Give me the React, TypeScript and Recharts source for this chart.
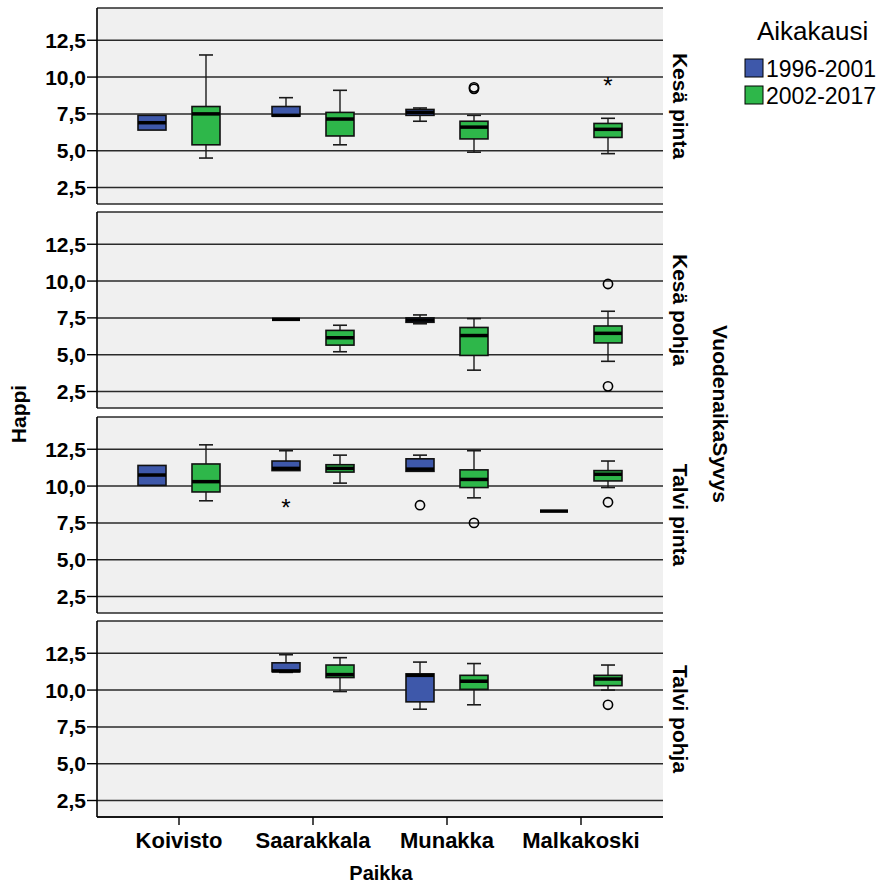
import React from 'react';
import { ComposedChart, Bar, XAxis, YAxis, CartesianGrid } from 'recharts';

const categories = ['Koivisto', 'Saarakkala', 'Munakka', 'Malkakoski'];
const panelLabels = ['Kesä pinta', 'Kesä pohja', 'Talvi pinta', 'Talvi pohja'];
const seriesNames = ['1996-2001', '2002-2017'];
const yTicks = [2.5, 5, 7.5, 10, 12.5];

type Box = number[] | null; // [min, q1, median, q3, max]
type Out = [number, string][]; // [value, marker] marker 'o' circle, '*' extreme

// Kesä pinta
const kesaPinta1996: Box[] = [[6.4, 6.4, 6.9, 7.4, 7.4], [7.35, 7.35, 7.4, 8.0, 8.6], [7.0, 7.4, 7.6, 7.8, 7.9], null];
const kesaPinta2002: Box[] = [[4.5, 5.4, 7.5, 8.0, 11.5], [5.4, 6.0, 7.15, 7.6, 9.1], [4.9, 5.8, 6.6, 7.0, 7.4], [4.8, 5.9, 6.45, 6.85, 7.2]];
const kesaPinta1996Out: Out[] = [[], [], [], []];
const kesaPinta2002Out: Out[] = [[], [], [[9.2, 'o'], [9.3, 'o']], [[9.8, '*']]];

// Kesä pohja
const kesaPohja1996: Box[] = [null, [7.4, 7.4, 7.4, 7.4, 7.4], [7.1, 7.2, 7.35, 7.5, 7.7], null];
const kesaPohja2002: Box[] = [null, [5.2, 5.65, 6.15, 6.65, 7.0], [3.95, 4.95, 6.3, 6.85, 7.45], [4.55, 5.8, 6.45, 6.95, 7.95]];
const kesaPohja1996Out: Out[] = [[], [], [], []];
const kesaPohja2002Out: Out[] = [[], [], [], [[9.8, 'o'], [2.85, 'o']]];

// Talvi pinta
const talviPinta1996: Box[] = [[10.05, 10.05, 10.75, 11.4, 11.4], [11.05, 11.05, 11.2, 11.7, 12.4], [11.0, 11.0, 11.15, 11.85, 12.1], [8.3, 8.3, 8.3, 8.3, 8.3]];
const talviPinta2002: Box[] = [[9.0, 9.6, 10.3, 11.5, 12.8], [10.2, 10.95, 11.2, 11.45, 12.1], [9.2, 9.9, 10.45, 11.1, 12.4], [9.9, 10.35, 10.8, 11.05, 11.7]];
const talviPinta1996Out: Out[] = [[], [[8.95, '*']], [[8.7, 'o']], []];
const talviPinta2002Out: Out[] = [[], [], [[7.5, 'o']], [[8.9, 'o']]];

// Talvi pohja
const talviPohja1996: Box[] = [null, [11.2, 11.25, 11.3, 11.85, 12.4], [8.7, 9.2, 11.0, 11.1, 11.9], null];
const talviPohja2002: Box[] = [null, [9.9, 10.85, 11.05, 11.7, 12.2], [9.0, 10.05, 10.6, 11.0, 11.8], [10.0, 10.3, 10.75, 11.0, 11.7]];
const talviPohja1996Out: Out[] = [[], [], [], []];
const talviPohja2002Out: Out[] = [[], [], [], [[9.0, 'o']]];

const panelSeries = [
  [kesaPinta1996, kesaPinta2002, kesaPinta1996Out, kesaPinta2002Out],
  [kesaPohja1996, kesaPohja2002, kesaPohja1996Out, kesaPohja2002Out],
  [talviPinta1996, talviPinta2002, talviPinta1996Out, talviPinta2002Out],
  [talviPohja1996, talviPohja2002, talviPohja1996Out, talviPohja2002Out],
] as const;

const Y_MIN = 1.38;
const Y_MAX = 14.69;
const PANEL_TOPS = [8, 212, 417, 621];
const PANEL_H = 196;
const BLUE = '#3E58AA';
const GREEN = '#2EB74A';
const FONT = '"Liberation Sans", Arial, Helvetica, sans-serif';

const fmt = (v: number) => v.toFixed(1).replace('.', ',');

const YTick = (props: any) => {
  const { x, y, payload } = props;
  return (
    <text x={x} y={y} dy={7.5} textAnchor="end" fontFamily={FONT} fontWeight="bold" fontSize={21} fill="#000">
      {fmt(payload.value)}
    </text>
  );
};

const XTick = (props: any) => {
  const { x, y, payload } = props;
  return (
    <text x={x} y={y} dy={21} textAnchor="middle" fontFamily={FONT} fontWeight="bold" fontSize={22} fill="#000">
      {payload.value}
    </text>
  );
};

const makeShape = (key: 'b' | 'g', outKey: 'bo' | 'go', fill: string) => (props: any) => {
  const { x, y, width, height, payload } = props;
  const box: Box = payload ? payload[key] : null;
  const outs: Out = (payload && payload[outKey]) || [];
  if (!box || !height) return <g />;
  const py = (v: number) => y + ((Y_MAX - v) / (Y_MAX - Y_MIN)) * height;
  const [mn, q1, md, q3, mx] = box;
  const cx = x + width / 2;
  const capW = width * 0.5;
  const stroke = '#1a1a1a';
  return (
    <g>
      {mx > q3 && <line x1={cx} x2={cx} y1={py(mx)} y2={py(q3)} stroke={stroke} strokeWidth={1.4} />}
      {mx > q3 && <line x1={cx - capW / 2} x2={cx + capW / 2} y1={py(mx)} y2={py(mx)} stroke={stroke} strokeWidth={1.6} />}
      {mn < q1 && <line x1={cx} x2={cx} y1={py(q1)} y2={py(mn)} stroke={stroke} strokeWidth={1.4} />}
      {mn < q1 && <line x1={cx - capW / 2} x2={cx + capW / 2} y1={py(mn)} y2={py(mn)} stroke={stroke} strokeWidth={1.6} />}
      <rect x={x} y={py(q3)} width={width} height={Math.max(0, py(q1) - py(q3))} fill={fill} stroke="#111" strokeWidth={1.6} />
      <line x1={x} x2={x + width} y1={py(md)} y2={py(md)} stroke="#000" strokeWidth={3.5} />
      {outs.map(([v, m], i) =>
        m === '*' ? (
          <text key={i} x={cx} y={py(v)} dy={14} textAnchor="middle" fontFamily={FONT} fontSize={24} fill="#000">*</text>
        ) : (
          <circle key={i} cx={cx} cy={py(v)} r={4.6} fill="none" stroke="#000" strokeWidth={1.6} />
        )
      )}
    </g>
  );
};

const blueShape = makeShape('b', 'bo', BLUE);
const greenShape = makeShape('g', 'go', GREEN);

const Panel = ({ index }: { index: number }) => {
  const [b, g, bo, go] = panelSeries[index];
  const rows = categories.map((name, i) => ({ name, b: b[i], g: g[i], bo: bo[i], go: go[i] }));
  const showX = index === 3;
  const h = PANEL_H + 4 + (showX ? 60 : 0);
  const axisLine = { stroke: '#000', strokeWidth: 1.6 };
  return (
    <div style={{ position: 'absolute', left: 0, top: PANEL_TOPS[index] - 2 }}>
      <ComposedChart width={880} height={h} data={rows} barGap={26} margin={{ top: 2, right: 217, bottom: 2, left: 0 }}>
        <CartesianGrid xAxisId="x" yAxisId="y" vertical={false} fill="#F0F0F0" fillOpacity={1} stroke="#2a2a2a" strokeWidth={1.5} />
        <XAxis
          xAxisId="x"
          dataKey="name"
          type="category"
          padding={{ left: 15, right: 15 }}
          height={showX ? 60 : 0}
          interval={0}
          tick={showX ? <XTick /> : false}
          tickLine={showX ? { stroke: '#000', strokeWidth: 1.4 } : false}
          tickSize={8}
          tickMargin={2}
          axisLine={axisLine}
        />
        <XAxis xAxisId="top" dataKey="name" orientation="top" height={0} tick={false} tickLine={false} axisLine={axisLine} />
        <YAxis
          yAxisId="y"
          type="number"
          domain={[Y_MIN, Y_MAX]}
          allowDataOverflow
          ticks={yTicks}
          interval={0}
          width={97}
          tickSize={10}
          tickMargin={1}
          tick={<YTick />}
          tickLine={{ stroke: '#000', strokeWidth: 1.4 }}
          axisLine={axisLine}
        />
        <YAxis yAxisId="r" orientation="right" type="number" domain={[Y_MIN, Y_MAX]} allowDataOverflow width={0} tick={false} tickLine={false} axisLine={axisLine} />
        <Bar
          xAxisId="x"
          yAxisId="y"
          dataKey={(d: any) => (d.b ? [Y_MIN, Y_MAX] : null)}
          barSize={28}
          isAnimationActive={false}
          shape={blueShape}
        />
        <Bar
          xAxisId="x"
          yAxisId="y"
          dataKey={(d: any) => (d.g ? [Y_MIN, Y_MAX] : null)}
          barSize={28}
          isAnimationActive={false}
          shape={greenShape}
        />
      </ComposedChart>
    </div>
  );
};

export default function App() {
  const textProps = { fontFamily: FONT, fill: '#000' };
  return (
    <div style={{ position: 'absolute', left: 0, top: 0, width: 880, height: 885, background: '#fff', overflow: 'hidden' }}>
      {panelLabels.map((_, i) => (
        <Panel key={i} index={i} />
      ))}
      <svg width={880} height={885} style={{ position: 'absolute', left: 0, top: 0, pointerEvents: 'none' }}>
        {panelLabels.map((lab, i) => (
          <text
            key={lab}
            transform={`translate(681, ${PANEL_TOPS[i] + PANEL_H / 2}) rotate(90)`}
            textAnchor="middle"
            dy="0.36em"
            fontWeight="bold"
            fontSize={21}
            {...textProps}
          >
            {lab}
          </text>
        ))}
        <text transform="translate(721, 414) rotate(90)" textAnchor="middle" dy="0.36em" fontWeight="bold" fontSize={21} {...textProps}>
          VuodenaikaSyvys
        </text>
        <text transform="translate(18, 414) rotate(-90)" textAnchor="middle" dy="0.36em" fontWeight="bold" fontSize={21} {...textProps}>
          Happi
        </text>
        <text x={381} y={880} textAnchor="middle" fontWeight="bold" fontSize={20} {...textProps}>
          Paikka
        </text>
        <text x={757} y={40} fontSize={26} {...textProps}>
          Aikakausi
        </text>
        <rect x={745} y={59} width={18} height={18} fill={BLUE} stroke="#000" strokeWidth={1} />
        <text x={766} y={77} fontSize={23} {...textProps}>
          {seriesNames[0]}
        </text>
        <rect x={745} y={86} width={18} height={18} fill={GREEN} stroke="#000" strokeWidth={1} />
        <text x={766} y={104} fontSize={23} {...textProps}>
          {seriesNames[1]}
        </text>
      </svg>
    </div>
  );
}
